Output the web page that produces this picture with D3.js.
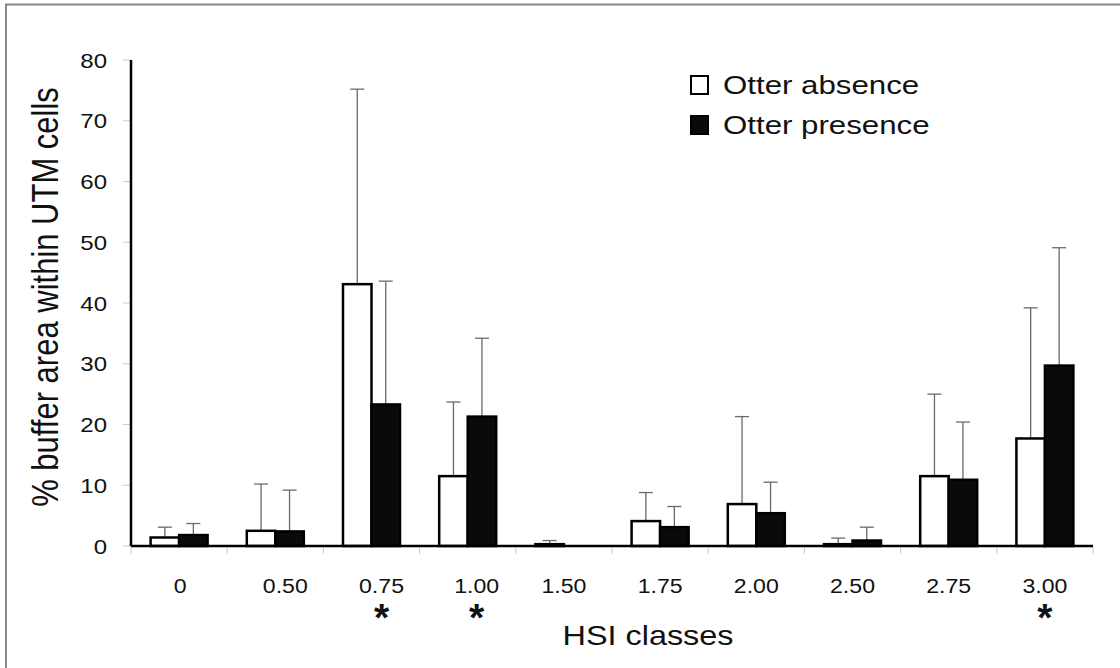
<!DOCTYPE html>
<html>
<head>
<meta charset="utf-8">
<script src="https://cdn.jsdelivr.net/npm/d3@7"></script>
<style>
  body { margin: 0; background: #fff; }
  text { font-family: "Liberation Sans", Arial, sans-serif; fill: #111; }
</style>
</head>
<body>
<div id="chart"></div>
<script>
const classes = ['0', '0.50', '0.75', '1.00', '1.50', '1.75', '2.00', '2.50', '2.75', '3.00'];
const absence = [1.4, 2.5, 43.1, 11.5, 0.3, 4.1, 6.9, 0.3, 11.5, 17.7];
const absenceErr = [3.1, 10.2, 75.2, 23.7, 0.9, 8.8, 21.3, 1.3, 25.0, 39.2];
const presence = [1.8, 2.4, 23.3, 21.3, 0, 3.1, 5.4, 0.9, 10.9, 29.7];
const presenceErr = [3.7, 9.2, 43.6, 34.2, 0, 6.5, 10.5, 3.1, 20.4, 49.1];
const significant = ['0.75', '1.00', '3.00'];
const yTicks = [0, 10, 20, 30, 40, 50, 60, 70, 80];

const width = 1120;
const height = 668;
const plotLeft = 131, plotRight = 1093, plotTop = 60, plotBottom = 546;
const barWidth = 28.5;
// the source figure is a little wider than tall, text is stretched to match
const stretch = 1.2;
// a few category labels sit slightly right of their band centre in the source
const labelNudge = {'0': 1, '0.50': 10, '0.75': 10, '1.00': 9};

let svg = d3.select('#chart').append('svg')
  .attr('width', width)
  .attr('height', height)

// frame
svg.append('path')
  .attr('d', `M6,${height + 5}V4.5H${width + 5}`)
  .attr('fill', 'none')
  .attr('stroke', '#888')
  .attr('stroke-width', 2)

let x = d3.scaleBand().domain(classes).range([plotLeft, plotRight])
let y = d3.scaleLinear().domain([0, 80]).range([plotBottom, plotTop])
let labelX = c => x(c) + x.bandwidth() / 2 + (labelNudge[c] || 0)

let label = (px, py, str, size, anchor, sx) => svg.append('text')
  .attr('transform', `translate(${px}, ${py}) scale(${sx}, 1)`)
  .attr('text-anchor', anchor)
  .style('font-size', size + 'px')
  .text(str)

// y ticks
svg.selectAll('.ytick').data(yTicks).enter().append('line')
  .attr('x1', plotLeft - 8).attr('x2', plotLeft)
  .attr('y1', d => y(d)).attr('y2', d => y(d))
  .attr('stroke', '#ccc')

yTicks.forEach(d => label(107, y(d) + 7.5, d, 20, 'end', stretch))

// x ticks at band boundaries
let bounds = classes.map(c => x(c)).concat([plotRight])
svg.selectAll('.xtick').data(bounds).enter().append('line')
  .attr('x1', d => d).attr('x2', d => d)
  .attr('y1', plotBottom).attr('y2', plotBottom + 8)
  .attr('stroke', '#ccc')

classes.forEach(c => label(labelX(c), 593, c, 21, 'middle', 1.1))

svg.selectAll('.star').data(significant).enter().append('text')
  .attr('x', d => labelX(d))
  .attr('y', 631)
  .attr('text-anchor', 'middle')
  .style('font-size', '39px')
  .style('font-weight', 'bold')
  .text('*')

let series = [
  {values: absence, errs: absenceErr, fill: '#fff', offset: -barWidth},
  {values: presence, errs: presenceErr, fill: '#0a0a0a', offset: 0}
]

series.forEach(s => {
  let g = svg.append('g')
  classes.forEach((c, i) => {
    let cx = x(c) + x.bandwidth() / 2 + s.offset
    if (s.errs[i] > 0) {
      g.append('line')
        .attr('x1', cx + barWidth / 2).attr('x2', cx + barWidth / 2)
        .attr('y1', y(s.values[i])).attr('y2', y(s.errs[i]))
        .attr('stroke', '#6a6a6a').attr('stroke-width', 1.3)
      g.append('line')
        .attr('x1', cx + barWidth / 2 - 7).attr('x2', cx + barWidth / 2 + 7)
        .attr('y1', y(s.errs[i])).attr('y2', y(s.errs[i]))
        .attr('stroke', '#6a6a6a').attr('stroke-width', 1.3)
    }
    if (s.values[i] > 0) {
      g.append('rect')
        .attr('x', cx)
        .attr('y', y(s.values[i]))
        .attr('width', barWidth)
        .attr('height', y(0) - y(s.values[i]))
        .attr('fill', s.fill)
        .attr('stroke', '#000')
        .attr('stroke-width', 2.5)
    }
  })
})

// axes lines
svg.append('line')
  .attr('x1', plotLeft).attr('x2', plotLeft)
  .attr('y1', plotTop).attr('y2', plotBottom)
  .attr('stroke', '#000').attr('stroke-width', 2.5)
svg.append('line')
  .attr('x1', plotLeft).attr('x2', plotRight)
  .attr('y1', plotBottom).attr('y2', plotBottom)
  .attr('stroke', '#000').attr('stroke-width', 2.5)

// titles
label(648, 645, 'HSI classes', 27, 'middle', stretch)

svg.append('text')
  .attr('transform', `translate(58, 297) scale(${stretch}, 1) rotate(-90)`)
  .attr('text-anchor', 'middle')
  .style('font-size', '31px')
  .text('% buffer area within UTM cells')

// legend
let legend = [
  {label: 'Otter absence', fill: '#fff'},
  {label: 'Otter presence', fill: '#0a0a0a'}
]
legend.forEach((d, i) => {
  svg.append('rect')
    .attr('x', 691).attr('y', 76 + i * 40)
    .attr('width', 17).attr('height', 18)
    .attr('fill', d.fill)
    .attr('stroke', '#000').attr('stroke-width', 2)
  label(723, 93.5 + i * 40, d.label, 25, 'start', 1.25)
})
</script>
</body>
</html>
